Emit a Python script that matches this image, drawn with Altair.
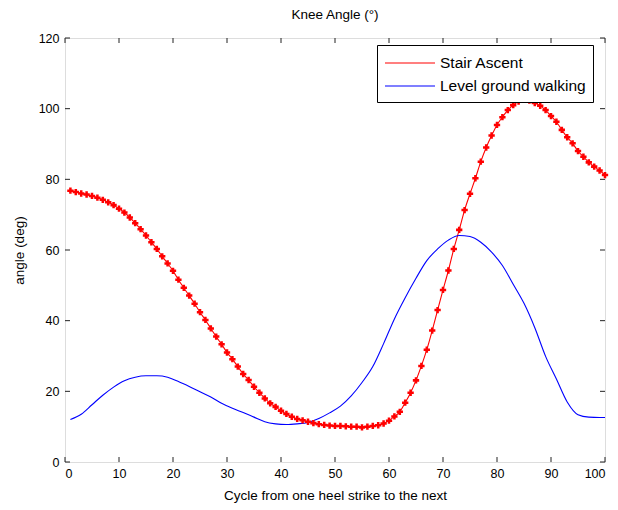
import altair as alt
import pandas as pd

# ---- data ----
stair_x = list(range(1, 101))
stair_y = [76.8, 76.4, 76.0, 75.7, 75.3, 74.8, 74.2, 73.5, 72.7, 71.7,
           70.6, 69.2, 67.6, 65.9, 64.1, 62.2, 60.3, 58.2, 56.2, 54.1,
           51.6, 49.3, 47.1, 44.8, 42.4, 40.2, 37.8, 35.5, 33.3, 31.0,
           29.1, 27.0, 24.9, 23.2, 21.3, 19.6, 18.0, 16.6, 15.6, 14.5,
           13.6, 12.8, 12.2, 11.8, 11.4, 11.0, 10.7, 10.5, 10.3, 10.2,
           10.2, 10.1, 10.0, 10.0, 9.8, 10.0, 10.2, 10.4, 10.9, 11.7,
           12.9, 14.2, 16.8, 19.6, 23.1, 27.2, 31.8, 37.2, 43.0, 48.7,
           54.2, 60.3, 65.7, 71.3, 75.9, 80.3, 85.0, 89.0, 92.4, 95.4,
           97.6, 99.6, 101.0, 102.0, 102.5, 102.3, 101.6, 100.8, 99.6, 97.9,
           96.3, 94.0, 91.9, 90.2, 88.0, 86.4, 84.8, 83.6, 82.5, 81.2]

level_x = [1, 3, 5, 7, 9, 11, 13, 15, 17, 19, 21, 23, 25, 27, 29, 31, 33, 35,
           37, 39, 41, 43, 45, 47, 49, 51, 53, 55, 57, 59, 61, 63, 65, 67, 69,
           71, 73, 75, 77, 79, 81, 83, 85, 87, 89, 91, 93, 95, 97, 99, 100]
level_y = [12.0, 13.5, 16.2, 18.9, 21.2, 23.0, 24.0, 24.4, 24.4, 24.0, 22.8,
           21.4, 19.9, 18.4, 16.6, 15.2, 14.0, 12.7, 11.4, 10.8, 10.6, 10.8,
           11.2, 12.3, 13.9, 15.8, 18.7, 22.5, 27.0, 33.5, 40.5, 46.5, 52.0,
           57.0, 60.3, 62.8, 64.1, 63.8, 62.2, 59.4, 55.6, 50.3, 44.9, 38.0,
           29.9, 23.5, 17.0, 13.4, 12.7, 12.6, 12.6]

series_names = ["Stair Ascent", "Level ground walking"]
series_colors = ["#ff0000", "#0000ff"]
x_ticks = [0, 10, 20, 30, 40, 50, 60, 70, 80, 90, 100]
y_ticks = [0, 20, 40, 60, 80, 100, 120]

FONT = "Liberation Sans"
W, H = 540, 424
TL = 5

df_stair = pd.DataFrame({"x": stair_x, "y": stair_y, "series": series_names[0]})
df_level = pd.DataFrame({"x": level_x, "y": level_y, "series": series_names[1]})
df = pd.concat([df_stair, df_level])
xt = pd.DataFrame({"v": x_ticks})
yt = pd.DataFrame({"v": y_ticks})

xscale = alt.Scale(domain=[0, 100], nice=False, zero=False)
yscale = alt.Scale(domain=[0, 120], nice=False, zero=False)

xaxis = alt.Axis(values=x_ticks, grid=False, ticks=False, domain=False,
                 labelPadding=5, labelFontSize=12.5, labelFont=FONT,
                 labelColor="black", title="Cycle from one heel strike to the next",
                 titleFont=FONT, titleFontSize=13.5, titleFontWeight="normal",
                 titleColor="black", titlePadding=9)
yaxis = alt.Axis(values=y_ticks, grid=False, ticks=False, domain=False,
                 labelPadding=6, labelFontSize=12.5, labelFont=FONT,
                 labelColor="black", title="angle (deg)",
                 titleFont=FONT, titleFontSize=13.5, titleFontWeight="normal",
                 titleColor="black", titlePadding=12)

# a 50px-wide horizontal stroke symbol (size 400 -> unit = 10 px)
legend_line = "M-2.5,0H2.5"

color = alt.Color("series:N",
                  scale=alt.Scale(domain=series_names, range=series_colors),
                  legend=alt.Legend(title=None, orient="none", legendX=312, legendY=7,
                                    symbolType=legend_line, symbolSize=400,
                                    symbolStrokeWidth=1.2, symbolOffset=15,
                                    labelFont=FONT, labelFontSize=15.5,
                                    labelColor="black", labelOffset=19,
                                    padding=7, rowPadding=3,
                                    strokeColor="black", fillColor="white"))

lines = alt.Chart(df).mark_line(strokeWidth=1.1, interpolate="monotone").encode(
    x=alt.X("x:Q", scale=xscale, axis=xaxis),
    y=alt.Y("y:Q", scale=yscale, axis=yaxis),
    color=color,
    detail="series:N",
)

pts = alt.Chart(df_stair).mark_point(shape="cross", filled=True, size=40,
                                     color="#ff0000", opacity=1).encode(
    x=alt.X("x:Q", scale=xscale),
    y=alt.Y("y:Q", scale=yscale),
)

tick_color = "#222222"
xb = alt.Chart(xt).mark_rule(color=tick_color).encode(
    x=alt.X("v:Q", scale=xscale), y=alt.value(H), y2=alt.value(H - TL))
xtop = alt.Chart(xt).mark_rule(color=tick_color).encode(
    x=alt.X("v:Q", scale=xscale), y=alt.value(0), y2=alt.value(TL))
yl = alt.Chart(yt).mark_rule(color=tick_color).encode(
    y=alt.Y("v:Q", scale=yscale), x=alt.value(0), x2=alt.value(TL))
yr = alt.Chart(yt).mark_rule(color=tick_color).encode(
    y=alt.Y("v:Q", scale=yscale), x=alt.value(W), x2=alt.value(W - TL))

chart = alt.layer(xb, xtop, yl, yr, lines, pts).properties(
    width=W, height=H,
    title=alt.Title("Knee Angle (°)", font=FONT, fontSize=13.5, fontWeight="normal",
                    color="black", anchor="middle", offset=11),
    autosize=alt.AutoSizeParams(type="none"),
    padding={"left": 65, "top": 38, "right": 13, "bottom": 48},
).configure_view(stroke="#222222", strokeWidth=1).configure(background="white")

chart.save("out.html", embed_options={"renderer": "svg", "actions": False})
